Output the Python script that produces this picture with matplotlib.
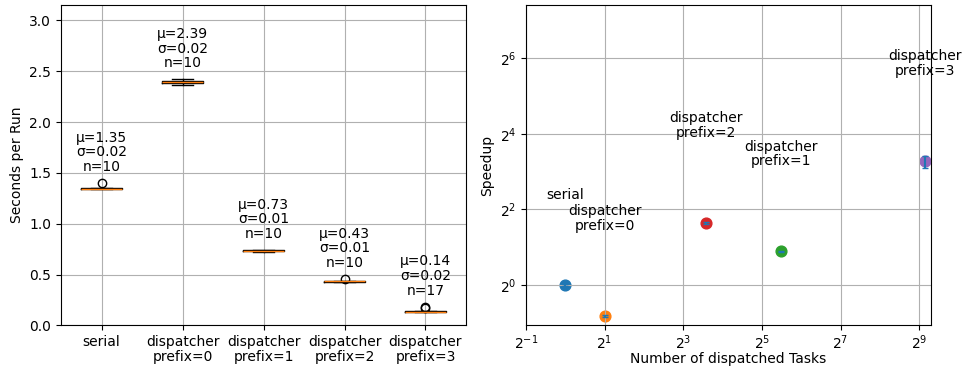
import numpy as np
import matplotlib
matplotlib.use("Agg")
import matplotlib.pyplot as plt

# runtime samples per configuration (seconds per run)
labels = ["serial", "dispatcher\nprefix=0", "dispatcher\nprefix=1",
          "dispatcher\nprefix=2", "dispatcher\nprefix=3"]
serial = [1.34, 1.34, 1.34, 1.35, 1.35, 1.35, 1.35, 1.34, 1.34, 1.40]
prefix0 = [2.36, 2.37, 2.38, 2.39, 2.39, 2.39, 2.40, 2.40, 2.41, 2.42]
prefix1 = [0.72, 0.72, 0.73, 0.73, 0.73, 0.73, 0.73, 0.74, 0.74, 0.74]
prefix2 = [0.425, 0.428, 0.430, 0.430, 0.432, 0.433, 0.435, 0.436, 0.438, 0.455]
prefix3 = [0.130, 0.130, 0.130, 0.130, 0.130, 0.135, 0.135, 0.135, 0.135,
           0.135, 0.135, 0.140, 0.140, 0.140, 0.140, 0.175, 0.185]
runs = [serial, prefix0, prefix1, prefix2, prefix3]

# number of dispatched tasks for each configuration
n_tasks = [1, 2, 45, 12, 566]

means = np.array([np.mean(r) for r in runs])
stds = np.array([np.std(r) for r in runs])
speedup = means[0] / means
speedup_err = speedup * np.sqrt((stds[0] / means[0]) ** 2 + (stds / means) ** 2)

fig = plt.figure(figsize=(9.67, 3.7), dpi=100)
ax1 = fig.add_axes([0.0631, 0.1203, 0.4188, 0.8662])
ax2 = fig.add_axes([0.5439, 0.1203, 0.4189, 0.8662])

# --- runtime boxplots ---
ax1.boxplot(runs)
ax1.set_xticks(range(1, len(labels) + 1))
ax1.set_xticklabels(labels)
for lbl in ax1.get_xticklabels():
    lbl.set_linespacing(1.05)
for i, r in enumerate(runs):
    ax1.text(i + 1, max(r) + 0.09,
             f"μ={np.mean(r):.2f}\nσ={np.std(r):.2f}\nn={len(r)}",
             ha="center", va="bottom", linespacing=1.05)
ax1.set_ylim(0, 3.15)
ax1.set_xlim(0.5, 5.5)
ax1.set_ylabel("Seconds per Run")
ax1.grid(True)

# --- speedup vs. number of tasks ---
for i in range(len(runs)):
    ax2.scatter(n_tasks[i], speedup[i], s=60, color=f"C{i}")
    ax2.annotate(labels[i], (n_tasks[i], speedup[i]), xytext=(0, 60),
                 textcoords="offset points", ha="center", va="bottom",
                 linespacing=1.05)
ax2.errorbar(n_tasks, speedup, yerr=speedup_err, fmt="none", color="C0",
             capsize=2)
ax2.set_xscale("log", base=2)
ax2.set_yscale("log", base=2)
ax2.set_xlim(2 ** -1, 2 ** 9.3)
ax2.set_ylim(2 ** -1.076, 2 ** 7.41)
ax2.set_xticks([2.0 ** k for k in range(-1, 10, 2)])
ax2.set_yticks([2.0 ** k for k in range(0, 7, 2)])
ax2.minorticks_off()
ax2.tick_params(axis="x", pad=2)
ax2.set_xlabel("Number of dispatched Tasks", labelpad=0)
ax2.set_ylabel("Speedup")
ax2.grid(True)

fig.savefig("out.png", dpi=100)
